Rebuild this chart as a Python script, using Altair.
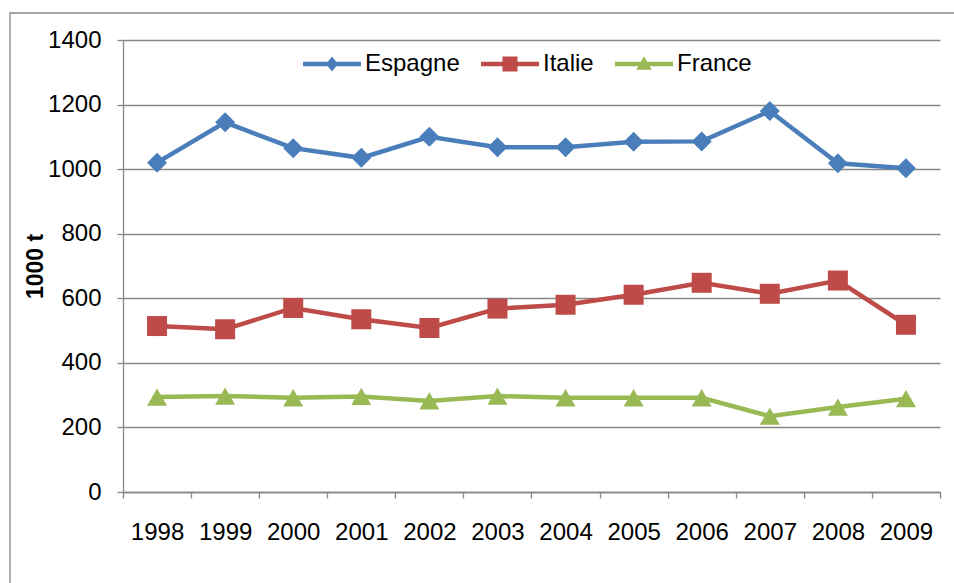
import altair as alt
import pandas as pd

# ---- data ----
years = ["1998", "1999", "2000", "2001", "2002", "2003",
         "2004", "2005", "2006", "2007", "2008", "2009"]
espagne = [1020, 1145, 1065, 1035, 1100, 1068, 1068, 1085, 1086, 1180, 1018, 1003]
italie = [514, 504, 570, 535, 508, 568, 580, 611, 648, 614, 655, 518]
france = [294, 297, 292, 296, 282, 297, 292, 292, 292, 235, 263, 289]

series_names = ["Espagne", "Italie", "France"]
series_values = [espagne, italie, france]
series_colors = ["#4A7EBB", "#BE4B48", "#98B954"]
marker_shapes = ["diamond", "square", "triangle-up"]
y_ticks = [0, 200, 400, 600, 800, 1000, 1200, 1400]

rows = []
for name, vals in zip(series_names, series_values):
    for yr, v in zip(years, vals):
        rows.append({"year": yr, "series": name, "value": v})
df = pd.DataFrame(rows)

GREY = "#878787"
FONT = "Liberation Sans"

# legend symbols: a line segment with the marker on it (custom SVG paths)
SEG = "M-1,-0.075H1V0.075H-1Z "
legend_paths = [
    SEG + "M0,-0.26L0.21,0L0,0.26L-0.21,0Z",
    SEG + "M-0.26,-0.26H0.26V0.26H-0.26Z",
    SEG + "M0,-0.27L0.27,0.2L-0.27,0.2Z",
]

x_enc = alt.X(
    "year:O",
    bandPosition=0.5,
    sort=years,
    scale=alt.Scale(type="band", domain=years, paddingInner=0, paddingOuter=0),
    axis=alt.Axis(
        title=None, labelAngle=0, tickBand="extent", grid=False,
        labelFont=FONT, labelFontSize=24, labelColor="black", labelPadding=22,
        tickSize=6, tickColor=GREY, tickWidth=1.3,
        domainColor=GREY, domainWidth=1.3,
    ),
)
y_enc = alt.Y(
    "value:Q",
    scale=alt.Scale(domain=[0, 1400], nice=False),
    axis=alt.Axis(
        values=y_ticks, format="d", grid=True, gridColor=GREY, gridWidth=1.3,
        labelFont=FONT, labelFontSize=24, labelColor="black", labelPadding=16,
        tickSize=6, tickColor=GREY, tickWidth=1.3,
        domainColor=GREY, domainWidth=1.3,
        title="1000 t", titleFont=FONT, titleFontSize=23, titleFontWeight="bold",
        titleColor="black", titleAngle=270, titleX=-88, titleY=226,
        titleAlign="center", titleBaseline="middle",
    ),
)
color_scale = alt.Scale(domain=series_names, range=series_colors)

leg = alt.Legend(
    title=None, orient="none", legendX=180, legendY=-5, direction="horizontal",
    symbolSize=3364, symbolStrokeWidth=0, symbolOpacity=1,
    labelFont=FONT, labelFontSize=24, labelColor="black", labelOffset=4,
    columnPadding=21, padding=0,
)
color_enc = alt.Color("series:N", scale=color_scale, legend=leg)

base = alt.Chart(df)

frame = alt.Chart(pd.DataFrame({"f": [0]})).mark_rect(
    fill="transparent", stroke=GREY, strokeWidth=1.3
).encode(
    x=alt.value(-113), x2=alt.value(900), y=alt.value(-27), y2=alt.value(600)
)

# layer that draws nothing itself (filtered empty) but defines the legend symbols
legend_layer = base.transform_filter("false").mark_point(filled=True, size=3364).encode(
    x=x_enc, y=y_enc,
    color=color_enc,
    shape=alt.Shape("series:N", scale=alt.Scale(domain=series_names, range=legend_paths), legend=leg),
)

lines = base.mark_line(strokeWidth=4.5).encode(
    x=x_enc, y=y_enc, color=color_enc,
)

markers = [
    base.transform_filter(alt.datum.series == s)
    .mark_point(shape=shp, filled=True, size=400, opacity=1)
    .encode(x=x_enc, y=y_enc, color=color_enc)
    for s, shp in zip(series_names, marker_shapes)
]

chart = alt.layer(frame, legend_layer, lines, *markers).properties(
    width=817, height=452,
    autosize=alt.AutoSizeParams(type="none"),
    padding={"left": 123, "top": 40, "right": 14, "bottom": 91},
    background="white",
).configure_view(stroke=None)

chart.save("out.html", embed_options={"renderer": "svg", "actions": False})
